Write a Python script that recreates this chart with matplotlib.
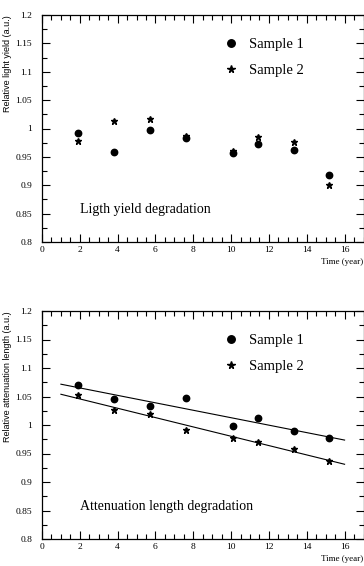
import numpy as np
import matplotlib
matplotlib.use("Agg")
import matplotlib.pyplot as plt
from matplotlib.ticker import MultipleLocator, FuncFormatter

# Measurement times (years)
time_years = [1.9, 3.8, 5.7, 7.6, 10.1, 11.4, 13.3, 15.2]

# Relative light yield
ly_sample1 = [0.992, 0.958, 0.997, 0.983, 0.957, 0.973, 0.962, 0.918]
ly_sample2 = [0.978, 1.014, 1.017, 0.987, 0.960, 0.985, 0.976, 0.900]

# Relative attenuation length
al_sample1 = [1.070, 1.046, 1.033, 1.047, 0.998, 1.013, 0.989, 0.978]
al_sample2 = [1.053, 1.026, 1.019, 0.991, 0.977, 0.971, 0.958, 0.937]

# Range over which the linear fits are drawn
fit_range = [1.0, 16.0]

series_labels = ["Sample 1", "Sample 2"]

SERIF = ["Liberation Serif", "DejaVu Serif"]
SANS = ["Liberation Sans", "DejaVu Sans"]

fig = plt.figure(figsize=(3.64, 5.66), dpi=100)

ax_top = fig.add_axes([42 / 364, 1 - 242 / 566, 321.5 / 364, 227 / 566])
ax_bot = fig.add_axes([42 / 364, 1 - 539 / 566, 321.5 / 364, 228 / 566])


def style_axes(ax, ylabel, title_text):
    ax.set_xlim(0, 17)
    ax.set_ylim(0.8, 1.2)
    ax.xaxis.set_major_locator(MultipleLocator(2))
    ax.xaxis.set_minor_locator(MultipleLocator(0.5))
    ax.yaxis.set_major_locator(MultipleLocator(0.05))
    ax.yaxis.set_minor_locator(MultipleLocator(0.025))
    ax.yaxis.set_major_formatter(FuncFormatter(lambda v, p: "%g" % round(v, 3)))
    ax.tick_params(which="both", direction="in", top=True, right=True,
                   width=0.8, colors="black")
    ax.tick_params(which="major", length=6)
    ax.tick_params(which="minor", length=3.5)
    ax.tick_params(axis="y", which="major", pad=7)
    ax.tick_params(axis="x", which="major", pad=3)
    for lab in ax.get_xticklabels() + ax.get_yticklabels():
        lab.set_family(SERIF)
        lab.set_fontsize(6.8)
    for sp in ax.spines.values():
        sp.set_linewidth(0.9)
    ax.set_ylabel(ylabel, loc="top", fontsize=6.5, family=SANS)
    ax.yaxis.set_label_coords(-0.093, 1.0)
    ax.set_xlabel("Time (year)", loc="right", fontsize=6.5, family=SERIF,
                  labelpad=3)
    ax.text(2.0, 0.857, title_text, fontsize=10, family=SERIF,
            ha="left", va="center")
    leg = ax.legend(loc="upper left", bbox_to_anchor=(0.543, 0.925),
                    frameon=False, prop={"family": SERIF, "size": 10.5},
                    labelspacing=0.85, handletextpad=0.6, handlelength=1.2,
                    borderaxespad=0)
    handles = leg.legend_handles
    handles[0].set_markersize(5.4)
    handles[1].set_markersize(5.4)
    return leg


# Light yield panel
ax_top.plot(time_years, ly_sample1, "o", color="black", ms=4.6,
            label=series_labels[0], zorder=3)
ax_top.plot(time_years, ly_sample2, "*", color="black", ms=4.8,
            label=series_labels[1], zorder=3)
style_axes(ax_top, "Relative light yield (a.u.)", "Ligth yield degradation")

# Attenuation length panel with linear fits
ax_bot.plot(time_years, al_sample1, "o", color="black", ms=4.6,
            label=series_labels[0], zorder=3)
ax_bot.plot(time_years, al_sample2, "*", color="black", ms=4.8,
            label=series_labels[1], zorder=3)
xf = np.array(fit_range)
for ys in (al_sample1, al_sample2):
    slope, intercept = np.polyfit(time_years, ys, 1)
    ax_bot.plot(xf, slope * xf + intercept, "-", color="black", lw=0.8,
                zorder=2)
style_axes(ax_bot, "Relative attenuation length (a.u.)",
           "Attenuation length degradation")

fig.savefig("out.png", dpi=100)
